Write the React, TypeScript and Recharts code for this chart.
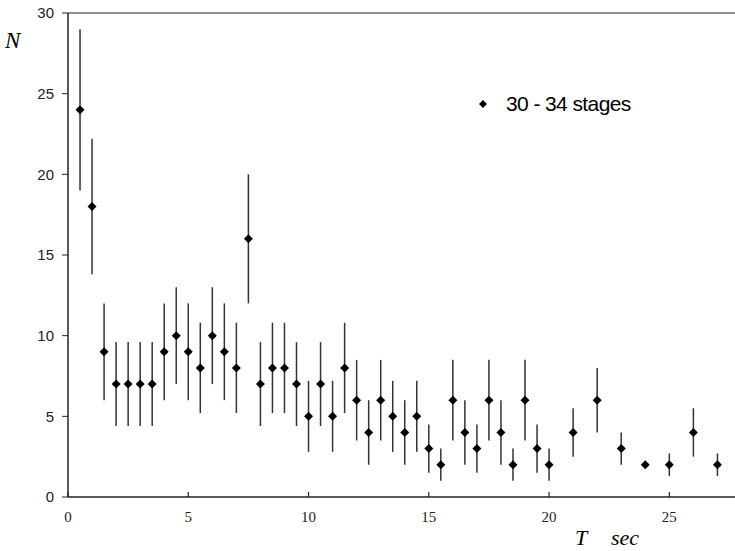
import { ScatterChart, Scatter, XAxis, YAxis, ErrorBar, ReferenceLine } from 'recharts';

const tValues = [0.5, 1, 1.5, 2, 2.5, 3, 3.5, 4, 4.5, 5, 5.5, 6, 6.5, 7, 7.5, 8, 8.5, 9, 9.5, 10, 10.5, 11, 11.5, 12, 12.5, 13, 13.5, 14, 14.5, 15, 15.5, 16, 16.5, 17, 17.5, 18, 18.5, 19, 19.5, 20, 21, 22, 23, 24, 25, 26, 27];
const nValues = [24, 18, 9, 7, 7, 7, 7, 9, 10, 9, 8, 10, 9, 8, 16, 7, 8, 8, 7, 5, 7, 5, 8, 6, 4, 6, 5, 4, 5, 3, 2, 6, 4, 3, 6, 4, 2, 6, 3, 2, 4, 6, 3, 2, 2, 4, 2];
const errValues = [5, 4.2, 3, 2.6, 2.6, 2.6, 2.6, 3, 3, 3, 2.8, 3, 3, 2.8, 4, 2.6, 2.8, 2.8, 2.6, 2.2, 2.6, 2.2, 2.8, 2.5, 2, 2.5, 2.2, 2, 2.2, 1.5, 1, 2.5, 2, 1.5, 2.5, 2, 1, 2.5, 1.5, 1, 1.5, 2, 1, 0, 0.7, 1.5, 0.7];
const xTicks = [0, 5, 10, 15, 20, 25];
const yTicks = [0, 5, 10, 15, 20, 25, 30];
const seriesName = '30 - 34 stages';

const data = tValues.map((t, i) => ({ t, n: nValues[i], err: errValues[i] }));

const Diamond = (props: any) => {
  const { cx, cy } = props;
  if (cx == null || cy == null) return null;
  const r = 4.5;
  return <path d={`M${cx},${cy - r}L${cx + r},${cy}L${cx},${cy + r}L${cx - r},${cy}Z`} fill="#000" />;
};

// x ticks point inward (up), labels in serif below
const XTick = (props: any) => {
  const { x, y, payload } = props;
  return (
    <g>
      <line x1={x} y1={y} x2={x} y2={y - 5} stroke="#222" strokeWidth={1.2} />
      <text x={x} y={y + 25} textAnchor="middle" fontFamily="'Liberation Serif', serif" fontSize={15} fill="#222">
        {payload.value}
      </text>
    </g>
  );
};

const serif = "'Liberation Serif', serif";

export default function App() {
  return (
    <div style={{ position: 'absolute', left: 0, top: 0, width: 735, height: 551, background: '#fff' }}>
      <ScatterChart width={735} height={551} margin={{ top: 13, right: 0, bottom: 0, left: 0 }}>
        <XAxis
          type="number"
          dataKey="t"
          domain={[0, 27.73]}
          ticks={xTicks}
          allowDataOverflow
          height={54}
          tickSize={0}
          tickMargin={0}
          tickLine={false}
          tick={<XTick />}
          axisLine={{ stroke: '#222', strokeWidth: 1.5 }}
        />
        <YAxis
          type="number"
          dataKey="n"
          domain={[0, 30]}
          ticks={yTicks}
          width={68}
          tickSize={6}
          tickMargin={8}
          tickLine={{ stroke: '#222' }}
          axisLine={{ stroke: '#222', strokeWidth: 1.5 }}
          tick={{ fontFamily: "'Liberation Sans', Arial, sans-serif", fontSize: 15, fill: '#222' }}
        />
        <ReferenceLine y={30} stroke="#222" strokeWidth={1.2} />
        <Scatter name={seriesName} data={data} shape={<Diamond />} isAnimationActive={false}>
          <ErrorBar dataKey="err" direction="y" width={0} stroke="#333" strokeWidth={1.5} />
        </Scatter>
      </ScatterChart>
      <div style={{ position: 'absolute', left: 476, top: 92, display: 'flex', alignItems: 'center', fontFamily: "'Liberation Sans', Arial, sans-serif", fontSize: 21, letterSpacing: -0.6, color: '#000' }}>
        <svg width={14} height={14} style={{ marginRight: 16 }}>
          <path d="M7,3L11,7L7,11L3,7Z" fill="#000" />
        </svg>
        <span>{seriesName}</span>
      </div>
      <div style={{ position: 'absolute', left: 5, top: 28, fontFamily: serif, fontStyle: 'italic', fontSize: 23 }}>N</div>
      <div style={{ position: 'absolute', left: 575, top: 525, fontFamily: serif, fontStyle: 'italic', fontSize: 22 }}>T</div>
      <div style={{ position: 'absolute', left: 611, top: 525, fontFamily: serif, fontStyle: 'italic', fontSize: 22 }}>sec</div>
    </div>
  );
}
